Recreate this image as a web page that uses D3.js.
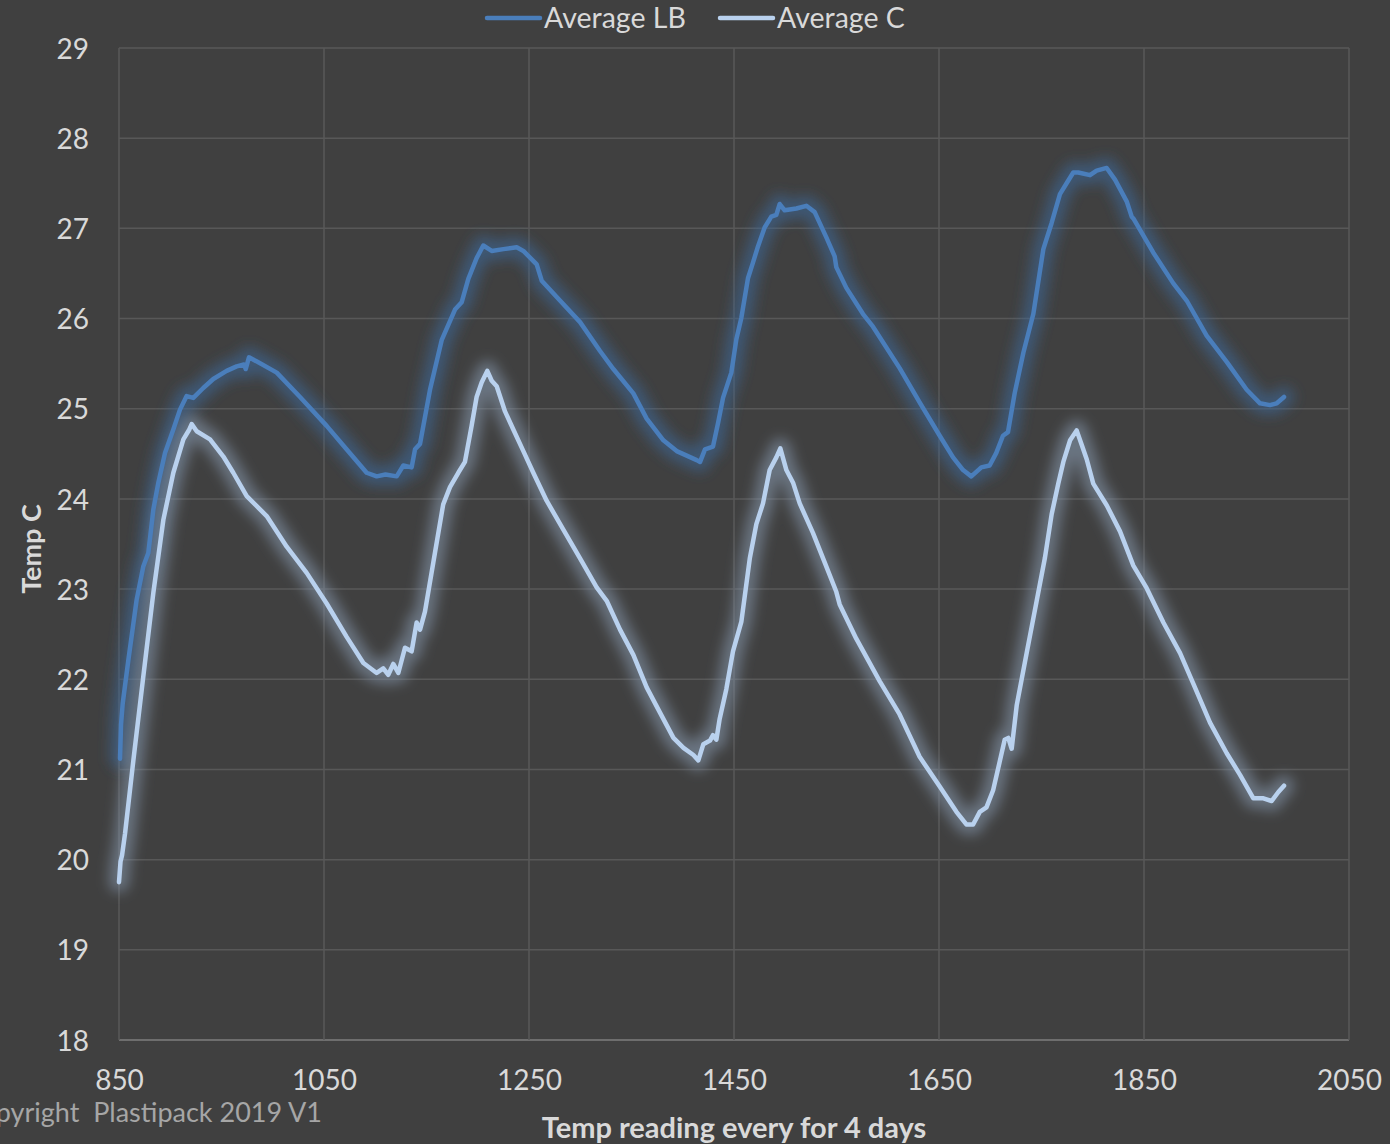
<!DOCTYPE html>
<html>
<head>
<meta charset="utf-8">
<script src="https://cdn.jsdelivr.net/npm/d3@7"></script>
<style>
  html, body { margin: 0; padding: 0; background: #404040; }
  svg { display: block; }
  text { font-family: Lato, "Open Sans", sans-serif; }
</style>
</head>
<body>
<svg id="chart" width="1390" height="1144"></svg>
<script>
// Reading index (x) and temperature (°C) for each series
const lbReading = [851,852,853.6,859.1,867.2,873.7,878.6,883.5,888.4,894.9,903,909.5,916,922.5,932.2,942,955,964.8,972,973.6,976.8,985,1003.9,1026.6,1052.6,1072,1091.6,1101.4,1110,1120.9,1127.4,1135.5,1138.8,1143.7,1153.4,1164.8,1177.8,1184.3,1190.8,1198.9,1205.4,1213.6,1225,1238,1244.5,1257.5,1262.4,1280.2,1299.8,1319.3,1332.3,1351.8,1364.8,1381.1,1394.1,1413.6,1416.9,1421.7,1429.5,1434.4,1439.3,1447.4,1452.3,1457.2,1463.7,1468.5,1473.4,1479.9,1486.4,1491.3,1494.6,1499.4,1510.8,1520.6,1528.7,1540.1,1548.2,1549.8,1559.6,1575.9,1585.6,1611.6,1631.1,1650.7,1663.7,1673.5,1681.5,1691.3,1699.4,1705.9,1712.4,1717.3,1723.8,1732.3,1742,1751.8,1759.9,1768,1774.5,1781,1785.9,1797.3,1803.8,1813.6,1821.7,1833.1,1838,1839.6,1859.1,1878.6,1891.6,1911.1,1930.7,1950.2,1963.2,1972.9,1979.5,1986.6];
const lbTemp = [21.12,21.5,21.73,22.21,22.88,23.25,23.40,23.88,24.18,24.51,24.77,24.99,25.14,25.12,25.23,25.33,25.42,25.47,25.49,25.44,25.57,25.52,25.40,25.13,24.81,24.55,24.29,24.25,24.27,24.25,24.37,24.35,24.55,24.61,25.21,25.76,26.10,26.18,26.44,26.67,26.81,26.75,26.77,26.79,26.75,26.60,26.42,26.20,25.96,25.64,25.44,25.17,24.89,24.65,24.53,24.43,24.41,24.55,24.58,24.84,25.12,25.40,25.77,26.01,26.45,26.62,26.80,27.01,27.13,27.15,27.27,27.20,27.22,27.25,27.18,26.90,26.69,26.57,26.34,26.05,25.91,25.45,25.07,24.70,24.46,24.32,24.25,24.35,24.37,24.51,24.70,24.74,25.17,25.62,26.05,26.77,27.06,27.38,27.50,27.62,27.62,27.59,27.64,27.67,27.54,27.30,27.13,27.11,26.73,26.39,26.20,25.81,25.52,25.21,25.06,25.04,25.06,25.13];

const cReading = [850,851.5,853,855.9,864,873.7,883.5,893.3,903,912.8,918.6,920.9,925.8,938.8,951.8,961.5,974.6,994.1,1013.6,1033.1,1052.6,1072.1,1088.4,1101.4,1107.8,1112.7,1117.6,1122.5,1129,1135.5,1140.4,1143.7,1148.5,1156.7,1166.3,1172.9,1181,1187.5,1194,1198.9,1203.8,1209.3,1213.6,1218.5,1226.6,1234.7,1244.5,1254.2,1267.2,1283.5,1299.8,1316,1325.8,1338.8,1351.8,1364.8,1377.8,1390.9,1400.7,1410.4,1415.2,1420.1,1426.6,1429.5,1432.8,1436,1442.5,1449,1457.2,1465.4,1471.8,1478.3,1484.8,1491.3,1495.2,1501.1,1507.6,1514.1,1527.1,1540.1,1549.8,1553.1,1569.3,1592.1,1611.6,1631.1,1650.7,1667,1676.7,1683.3,1689.8,1696.3,1702.8,1709.3,1714.1,1717.6,1720.9,1725.8,1735.5,1745.3,1753.4,1759.9,1766.4,1771.3,1777.9,1784.3,1789.2,1794.1,1800.5,1813.6,1826.6,1839.6,1852.6,1868.9,1885.2,1898.2,1914.4,1930.7,1943.7,1956.7,1966.5,1974.6,1981.1,1986.6];
const cTemp = [19.75,19.98,20.05,20.29,21.10,22.03,22.96,23.77,24.29,24.66,24.77,24.83,24.75,24.66,24.47,24.29,24.03,23.81,23.47,23.18,22.84,22.47,22.18,22.07,22.12,22.05,22.17,22.07,22.35,22.31,22.63,22.55,22.75,23.30,23.94,24.13,24.29,24.41,24.81,25.13,25.29,25.42,25.31,25.25,24.97,24.77,24.53,24.29,23.98,23.66,23.34,23.02,22.87,22.55,22.27,21.91,21.63,21.35,21.24,21.16,21.10,21.28,21.32,21.38,21.33,21.56,21.89,22.31,22.64,23.34,23.72,23.95,24.32,24.46,24.56,24.32,24.18,23.95,23.62,23.25,22.97,22.83,22.45,21.98,21.61,21.14,20.81,20.53,20.39,20.39,20.53,20.58,20.77,21.09,21.33,21.35,21.23,21.71,22.29,22.87,23.35,23.83,24.17,24.41,24.65,24.76,24.60,24.44,24.17,23.93,23.64,23.26,23.01,22.63,22.29,21.95,21.52,21.18,20.94,20.68,20.68,20.65,20.75,20.82];

const xTicks = [850, 1050, 1250, 1450, 1650, 1850, 2050];
const yTicks = [18, 19, 20, 21, 22, 23, 24, 25, 26, 27, 28, 29];

const seriesNames = ["Average LB", "Average C"];
const seriesColors = ["#4a7ebb", "#b9d1ee"];
const glowColors = ["#3c6898", "#8596ab"];

const svg = d3.select("#chart");
const W = 1390, H = 1144;
const plot = { left: 119, right: 1349, top: 48, bottom: 1040 };

svg.append("rect").attr("width", W).attr("height", H).attr("fill", "#404040");

const x = d3.scaleLinear().domain([850, 2050]).range([plot.left, plot.right]);
const y = d3.scaleLinear().domain([18, 29]).range([plot.bottom, plot.top]);

// soft glow around the lines
const defs = svg.append("defs");
const f = defs.append("filter").attr("id", "glow")
  .attr("x", "-10%").attr("y", "-10%").attr("width", "120%").attr("height", "120%");
f.append("feGaussianBlur").attr("stdDeviation", 6.5);

// gridlines
const grid = svg.append("g");
grid.selectAll("line.h").data(yTicks).join("line")
  .attr("x1", plot.left).attr("x2", plot.right)
  .attr("y1", d => y(d)).attr("y2", d => y(d))
  .attr("stroke", d => d === 18 ? "#6e6e6e" : "#585858").attr("stroke-width", d => d === 18 ? 2 : 1.5);
grid.selectAll("line.v").data(xTicks).join("line")
  .attr("y1", plot.top).attr("y2", plot.bottom)
  .attr("x1", d => x(d)).attr("x2", d => x(d))
  .attr("stroke", "#585858").attr("stroke-width", 1.5);

// axes (labels only)
const xAxis = svg.append("g").attr("transform", `translate(0,${plot.bottom})`)
  .call(d3.axisBottom(x).tickValues(xTicks).tickSize(0).tickPadding(30).tickFormat(d3.format("d")));
xAxis.select(".domain").remove();
xAxis.selectAll("text").attr("fill", "#d9d9d9").attr("font-size", 28).attr("font-family", "Lato");

const yAxis = svg.append("g").attr("transform", `translate(${plot.left},0)`)
  .call(d3.axisLeft(y).tickValues(yTicks).tickSize(0).tickPadding(30).tickFormat(d3.format("d")));
yAxis.select(".domain").remove();
yAxis.selectAll("text").attr("fill", "#d9d9d9").attr("font-size", 28).attr("font-family", "Lato")
  .attr("dy", "0.36em");

// series
const series = [
  { name: seriesNames[0], xs: lbReading, ys: lbTemp },
  { name: seriesNames[1], xs: cReading, ys: cTemp }
];
const line = d3.line().x(d => x(d[0])).y(d => y(d[1]));

series.forEach((s, i) => {
  const pts = s.xs.map((v, k) => [v, s.ys[k]]);
  svg.append("path").datum(pts).attr("d", line)
    .attr("fill", "none").attr("stroke", glowColors[i]).attr("stroke-width", 20)
    .attr("stroke-opacity", 0.6).attr("stroke-linejoin", "round").attr("stroke-linecap", "round")
    .attr("filter", "url(#glow)");
});
series.forEach((s, i) => {
  const pts = s.xs.map((v, k) => [v, s.ys[k]]);
  svg.append("path").datum(pts).attr("d", line)
    .attr("fill", "none").attr("stroke", seriesColors[i]).attr("stroke-width", 4.5)
    .attr("stroke-linejoin", "round").attr("stroke-linecap", "round");
});

// legend
const legendX = [487, 720];
seriesNames.forEach((n, i) => {
  const g = svg.append("g").attr("transform", `translate(${legendX[i]},18)`);
  g.append("line").attr("x1", 0).attr("x2", 53).attr("y1", 0).attr("y2", 0)
    .attr("stroke", seriesColors[i]).attr("stroke-width", 4.5).attr("stroke-linecap", "round");
  g.append("text").attr("x", 57).attr("y", 0).attr("dy", "0.36em")
    .attr("fill", "#d9d9d9").attr("font-size", 28.5).text(n);
});

// axis titles
svg.append("text").attr("x", 734).attr("y", 1138).attr("text-anchor", "middle")
  .attr("fill", "#d9d9d9").attr("font-size", 29).attr("font-weight", "bold")
  .text("Temp reading every for 4 days");
svg.append("text").attr("transform", "translate(41,549) rotate(-90)").attr("text-anchor", "middle")
  .attr("fill", "#d9d9d9").attr("font-size", 27).attr("font-weight", "bold")
  .text("Temp C");

// footer note
svg.append("text").attr("x", 322).attr("y", 1122).attr("text-anchor", "end")
  .attr("fill", "#a6a6a6").attr("font-size", 27).style("white-space", "pre")
  .text("Copyright  Plastipack 2019 V1");
</script>
</body>
</html>
